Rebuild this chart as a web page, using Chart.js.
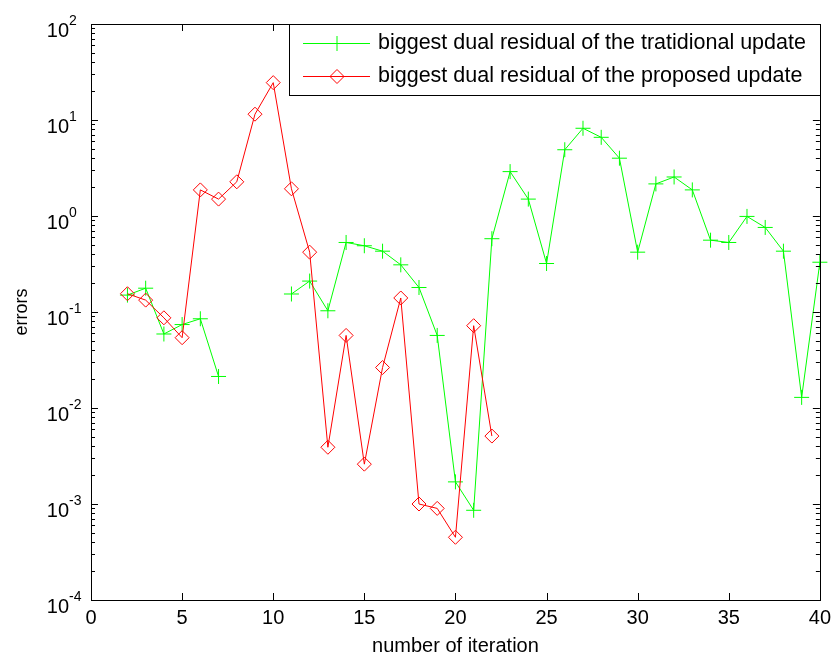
<!DOCTYPE html>
<html lang="en">
<head>
  <meta charset="UTF-8">
  <title>Dual residual per iteration</title>
  <script src="https://cdn.jsdelivr.net/npm/chart.js"></script>
  <style>
    html, body { margin: 0; padding: 0; background: #fff; }
    #wrap { width: 837px; height: 659px; }
  </style>
</head>
<body>
<div id="wrap"><canvas id="resChart" width="837" height="659"></canvas></div>

<script>
// iterations and residuals (null = no value recorded at that iteration)
const tradIters = [2, 3, 4, 5, 6, 7, 8, 9, 10, 11, 12, 13, 14, 15, 16, 17, 18, 19, 20, 21,
                   22, 23, 24, 25, 26, 27, 28, 29, 30, 31, 32, 33, 34, 35, 36, 37, 38, 39, 40];
const tradResidual = [0.15, 0.177, 0.059, 0.074, 0.085, 0.0213, null, null, null, 0.154,
                      0.21, 0.103, 0.53, 0.49, 0.43, 0.31, 0.18, 0.057, 0.0017, 0.00086,
                      0.58, 2.9, 1.5, 0.32, 4.9, 8.2, 6.6, 4.0, 0.42, 2.16,
                      2.55, 1.87, 0.56, 0.53, 0.99, 0.76, 0.43, 0.0129, 0.33];

const propIters = [2, 3, 4, 5, 6, 7, 8, 9, 10, 11, 12, 13, 14, 15, 16, 17, 18, 19, 20, 21, 22];
const propResidual = [0.155, 0.133, 0.087, 0.054, 1.87, 1.5, 2.27, 11.5, 24.5, 1.92,
                      0.42, 0.0039, 0.057, 0.0026, 0.0264, 0.14, 0.001, 0.0009, 0.00045, 0.072, 0.0051];

const xTicks = [0, 5, 10, 15, 20, 25, 30, 35, 40];
const yExponents = [-4, -3, -2, -1, 0, 1, 2];

const legendLabels = [
  'biggest dual residual of the tratidional update',
  'biggest dual residual of the proposed update'
];

const FONT = "'Liberation Sans', Arial, sans-serif";

const toPoints = (xs, ys) => xs.map((x, i) => ({ x: x, y: ys[i] }));

// MATLAB-like frame: box, inward ticks, 10^n labels and the legend box
const matlabAxes = {
  id: 'matlabAxes',
  afterDraw(chart) {
    const ctx = chart.ctx;
    const xs = chart.scales.x, ys = chart.scales.y;
    const a = chart.chartArea;
    ctx.save();
    ctx.strokeStyle = '#000';
    ctx.lineWidth = 1;

    // box
    ctx.strokeRect(Math.round(a.left) + 0.5, Math.round(a.top) + 0.5,
                   Math.round(a.right - a.left), Math.round(a.bottom - a.top));

    ctx.beginPath();
    xTicks.forEach(v => {
      const px = Math.round(xs.getPixelForValue(v)) + 0.5;
      ctx.moveTo(px, a.bottom); ctx.lineTo(px, a.bottom - 7);
      ctx.moveTo(px, a.top); ctx.lineTo(px, a.top + 7);
    });
    yExponents.forEach(e => {
      for (let m = 1; m <= 9; m++) {
        if (e === 2 && m > 1) break;
        const v = m * Math.pow(10, e);
        const py = Math.round(ys.getPixelForValue(v)) + 0.5;
        const len = m === 1 ? 7 : 4;
        ctx.moveTo(a.left, py); ctx.lineTo(a.left + len, py);
        ctx.moveTo(a.right, py); ctx.lineTo(a.right - len, py);
      }
    });
    ctx.stroke();

    // y tick labels as 10 with superscript exponent
    ctx.fillStyle = '#000';
    yExponents.forEach(e => {
      const py = ys.getPixelForValue(Math.pow(10, e));
      ctx.font = '20px ' + FONT;
      ctx.textAlign = 'right';
      ctx.textBaseline = 'middle';
      ctx.fillText('10', 69, py + 7);
      ctx.font = '14px ' + FONT;
      ctx.textAlign = 'left';
      ctx.fillText(String(e), 69, py - 3);
    });

    // legend
    const bx = 289, by = Math.round(a.top), bw = Math.round(a.right) - bx, bh = 71;
    ctx.fillStyle = '#fff';
    ctx.fillRect(bx, by, bw, bh);
    ctx.strokeStyle = '#000';
    ctx.strokeRect(bx + 0.5, by + 0.5, bw, bh);
    chart.data.datasets.forEach((ds, i) => {
      const ly = by + 19 + i * 33;
      ctx.strokeStyle = ds.borderColor;
      ctx.lineWidth = 1;
      ctx.beginPath();
      ctx.moveTo(303, ly + 0.5); ctx.lineTo(370, ly + 0.5);
      ctx.stroke();
      ctx.fillStyle = 'rgba(0,0,0,0)';
      Chart.helpers.drawPoint(ctx, {
        pointStyle: ds.pointStyle, radius: ds.pointRadius, borderWidth: 1, rotation: 0
      }, 337, ly + 0.5);
      ctx.fillStyle = '#000';
      ctx.font = '21.5px ' + FONT;
      ctx.textAlign = 'left';
      ctx.textBaseline = 'middle';
      ctx.fillText(legendLabels[i], 378, ly);
    });
    ctx.restore();
  }
};

new Chart(document.getElementById('resChart'), {
  type: 'line',
  data: {
    datasets: [{
      label: legendLabels[0],
      data: toPoints(tradIters, tradResidual),
      borderColor: '#00ff00',
      backgroundColor: 'rgba(0,0,0,0)',
      borderWidth: 1,
      pointStyle: 'cross',
      pointRadius: 7.5,
      pointBorderWidth: 1,
      spanGaps: false,
      clip: false,
      order: 1
    }, {
      label: legendLabels[1],
      data: toPoints(propIters, propResidual),
      borderColor: '#ff0000',
      backgroundColor: 'rgba(0,0,0,0)',
      borderWidth: 1,
      pointStyle: 'rectRot',
      pointRadius: 7,
      pointBorderWidth: 1,
      clip: false,
      order: 0
    }]
  },
  options: {
    responsive: false,
    animation: false,
    layout: { padding: { top: 24, right: 16, left: 0, bottom: 0 } },
    plugins: { legend: { display: false }, tooltip: { enabled: false } },
    elements: { line: { tension: 0 } },
    scales: {
      x: {
        type: 'linear',
        min: 0, max: 40,
        afterFit(scale) { scale.height = 59; },
        afterBuildTicks(scale) { scale.ticks = xTicks.map(v => ({ value: v })); },
        grid: { display: false, drawTicks: false },
        border: { display: false },
        ticks: { color: '#000', font: { family: FONT, size: 20 }, padding: 6, maxRotation: 0 },
        title: {
          display: true, text: 'number of iteration', color: '#000',
          font: { family: FONT, size: 20 }, padding: { top: 0, bottom: 1 }
        }
      },
      y: {
        type: 'logarithmic',
        min: 1e-4, max: 1e2,
        afterFit(scale) { scale.width = 91; },
        grid: { display: false, drawTicks: false },
        border: { display: false },
        ticks: { display: false },
        title: {
          display: true, text: 'errors', color: '#000',
          font: { family: FONT, size: 18 }, padding: { top: 11, bottom: 0 }
        }
      }
    }
  },
  plugins: [matlabAxes]
});
</script>
</body>
</html>
